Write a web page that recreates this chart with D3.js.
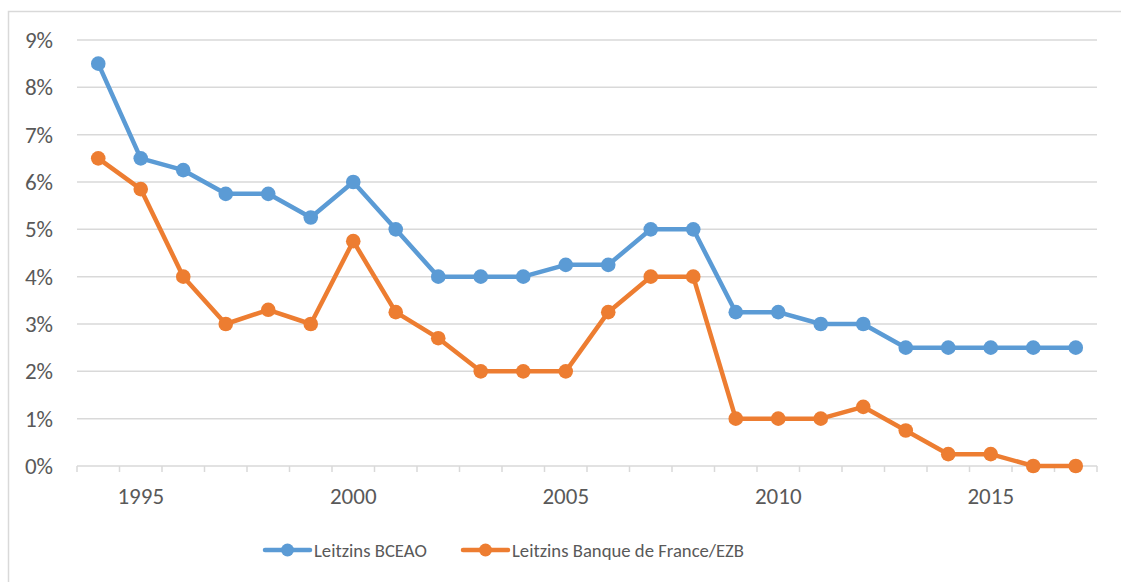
<!DOCTYPE html>
<html>
<head>
<meta charset="utf-8">
<script src="https://cdn.jsdelivr.net/npm/d3@7"></script>
<style>
  body { margin:0; background:#fff; }
  text { font-family: Calibri, Carlito, "Open Sans", sans-serif; fill:#595959; }
</style>
</head>
<body>
<script>
var years = [1994,1995,1996,1997,1998,1999,2000,2001,2002,2003,2004,2005,
             2006,2007,2008,2009,2010,2011,2012,2013,2014,2015,2016,2017];
var bceao = [8.5,6.5,6.25,5.75,5.75,5.25,6.0,5.0,4.0,4.0,4.0,4.25,
             4.25,5.0,5.0,3.25,3.25,3.0,3.0,2.5,2.5,2.5,2.5,2.5];
var france = [6.5,5.85,4.0,3.0,3.3,3.0,4.75,3.25,2.7,2.0,2.0,2.0,
              3.25,4.0,4.0,1.0,1.0,1.0,1.25,0.75,0.25,0.25,0.0,0.0];
var yTicks = [0,1,2,3,4,5,6,7,8,9];
var xLabels = [1995,2000,2005,2010,2015];
var seriesNames = ["Leitzins BCEAO","Leitzins Banque de France/EZB"];
var colors = ["#5b9bd5","#ed7d31"];

var width = 1121, height = 582;
var margins = {top:40, bottom:116, left:77, right:24};

var svg = d3.select("body").append("svg")
  .attr("width",width)
  .attr("height",height);

// chart frame
svg.append("rect")
  .attr("x",8.5).attr("y",11.5)
  .attr("width",1130).attr("height",600)
  .attr("fill","none").attr("stroke","#d9d9d9").attr("stroke-width",1.5);

var xScale = d3.scaleBand()
  .domain(years)
  .range([margins.left, width-margins.right]);
var yScale = d3.scaleLinear()
  .domain([0,9])
  .range([height-margins.bottom, margins.top]);

// gridlines
svg.append("g").selectAll("line")
  .data(yTicks)
  .enter().append("line")
  .attr("x1",margins.left).attr("x2",width-margins.right)
  .attr("y1",function(d){return yScale(d)})
  .attr("y2",function(d){return yScale(d)})
  .attr("stroke","#d9d9d9").attr("stroke-width",1.5);

// y labels
svg.append("g").selectAll("text")
  .data(yTicks)
  .enter().append("text")
  .attr("x",53).attr("y",function(d){return yScale(d)})
  .attr("dy","0.35em")
  .attr("text-anchor","end")
  .style("font-size","23px")
  .text(function(d){return d+"%"});

// x tick marks on category boundaries
var bounds = years.map(function(d){return xScale(d)}).concat([width-margins.right]);
svg.append("g").selectAll("line")
  .data(bounds)
  .enter().append("line")
  .attr("x1",function(d){return d}).attr("x2",function(d){return d})
  .attr("y1",yScale(0)).attr("y2",yScale(0)+6)
  .attr("stroke","#d9d9d9").attr("stroke-width",1.5);

svg.append("g").selectAll("text")
  .data(xLabels)
  .enter().append("text")
  .attr("x",function(d){return xScale(d)+xScale.bandwidth()/2})
  .attr("y",yScale(0)+38)
  .attr("text-anchor","middle")
  .style("font-size","23px")
  .text(function(d){return d});

var line = d3.line()
  .x(function(d,i){return xScale(years[i])+xScale.bandwidth()/2})
  .y(function(d){return yScale(d)});

[bceao, france].forEach(function(series,k){
  svg.append("path")
    .datum(series)
    .attr("fill","none")
    .attr("stroke",colors[k])
    .attr("stroke-width",4.5)
    .attr("stroke-linejoin","round")
    .attr("d",line);
  svg.append("g").selectAll("circle")
    .data(series)
    .enter().append("circle")
    .attr("cx",function(d,i){return xScale(years[i])+xScale.bandwidth()/2})
    .attr("cy",function(d){return yScale(d)})
    .attr("r",7.3)
    .attr("fill",colors[k]);
});

// legend
var legendX = [265, 463];
seriesNames.forEach(function(name,k){
  var g = svg.append("g").attr("transform","translate("+legendX[k]+",550)");
  g.append("line")
    .attr("x1",0).attr("x2",45).attr("y1",0).attr("y2",0)
    .attr("stroke",colors[k]).attr("stroke-width",4.5).attr("stroke-linecap","round");
  g.append("circle").attr("cx",22.5).attr("cy",0).attr("r",6.5).attr("fill",colors[k]);
  g.append("text")
    .attr("x",49).attr("y",0).attr("dy","0.35em")
    .style("font-size","18.7px")
    .text(name);
});
</script>
</body>
</html>
